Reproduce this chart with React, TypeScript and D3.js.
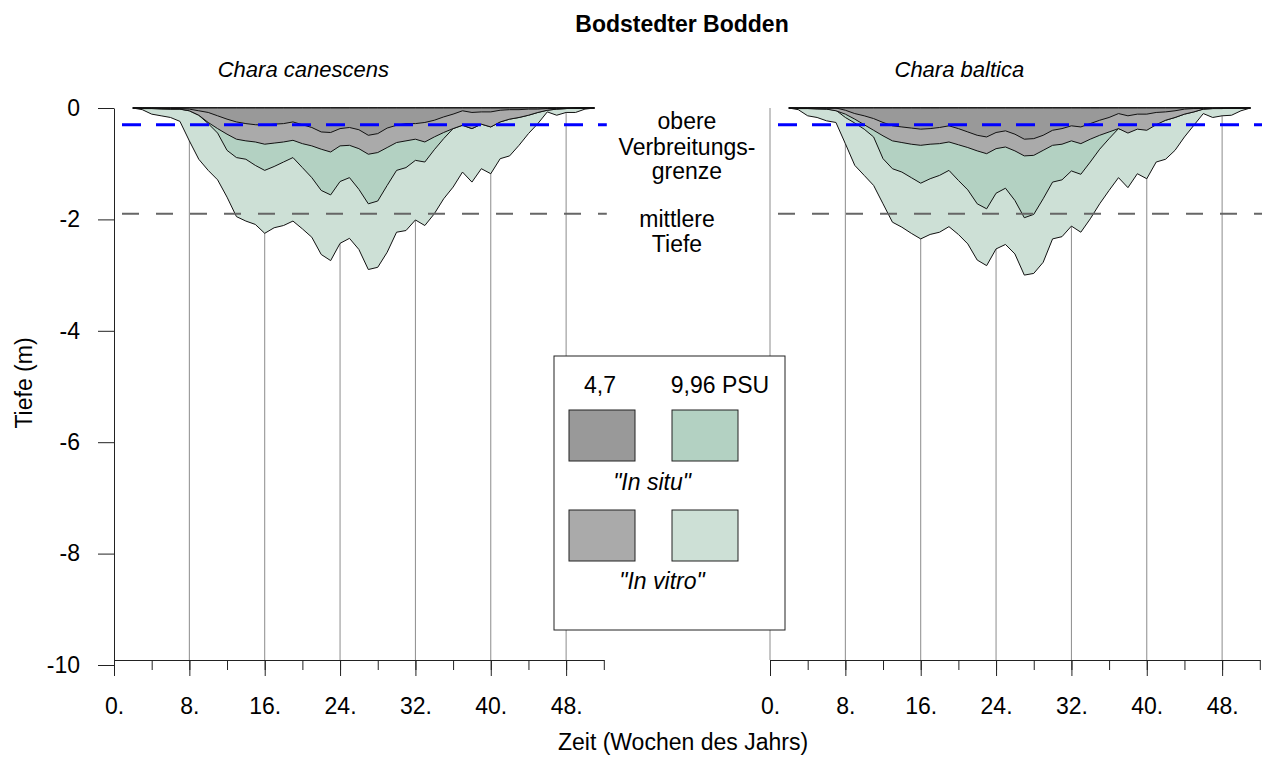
import * as d3 from "d3";
import { useEffect, useRef } from "react";

// Wochen mit Messwerten (x-Kategorien)
const weeks = [
  2, 3, 4, 5, 6, 7, 8, 9, 10, 11, 12, 13, 14, 15, 16, 17, 18, 19, 20, 21, 22, 23, 24, 25, 26,
  27, 28, 29, 30, 31, 32, 33, 34, 35, 36, 37, 38, 39, 40, 41, 42, 43, 44, 45, 46, 47, 48, 49, 50, 51,
];

// Chara canescens: untere Verbreitungsgrenze (m Tiefe)
const canescensSitu47 = [
  0, 0, 0, 0.01, 0.01, 0.01, 0.02, 0.05, 0.08, 0.14, 0.2, 0.25, 0.28, 0.3, 0.31, 0.29, 0.28, 0.25, 0.3, 0.35, 0.43, 0.44, 0.37, 0.35, 0.39,
  0.49, 0.46, 0.36, 0.31, 0.28, 0.28, 0.26, 0.22, 0.16, 0.11, 0.05, 0.08, 0.07, 0.07, 0.04, 0.03, 0.03, 0.02, 0.02, 0.01, 0.01, 0.01, 0, 0, 0,
];
const canescensVitro47 = [
  0, 0.01, 0.01, 0.02, 0.02, 0.02, 0.05, 0.13, 0.26, 0.37, 0.47, 0.56, 0.59, 0.61, 0.65, 0.63, 0.61, 0.58, 0.64, 0.68, 0.74, 0.79, 0.68, 0.67, 0.73,
  0.83, 0.8, 0.71, 0.62, 0.59, 0.56, 0.61, 0.52, 0.44, 0.37, 0.31, 0.37, 0.29, 0.34, 0.25, 0.2, 0.17, 0.13, 0.08, 0.04, 0.02, 0.01, 0, 0, 0,
];
const canescensSitu996 = [
  0, 0.01, 0.01, 0.01, 0.02, 0.02, 0.05, 0.13, 0.28, 0.45, 0.76, 0.89, 0.92, 1.03, 1.12, 1.05, 0.97, 0.89, 1.07, 1.25, 1.48, 1.56, 1.32, 1.25, 1.46,
  1.72, 1.67, 1.39, 1.12, 1.07, 0.94, 0.97, 0.75, 0.55, 0.37, 0.31, 0.37, 0.29, 0.34, 0.25, 0.2, 0.17, 0.13, 0.08, 0.04, 0.02, 0.01, 0, 0, 0,
];
const canescensVitro996 = [
  0, 0.03, 0.11, 0.14, 0.17, 0.24, 0.59, 0.92, 1.12, 1.29, 1.6, 1.95, 2.03, 2.09, 2.25, 2.15, 2.11, 2.03, 2.17, 2.32, 2.63, 2.74, 2.43, 2.34, 2.54,
  2.9, 2.86, 2.59, 2.23, 2.2, 2.01, 2.11, 1.9, 1.63, 1.42, 1.15, 1.33, 1.09, 1.18, 0.91, 0.86, 0.67, 0.46, 0.28, 0.07, 0.13, 0.08, 0.08, 0.02, 0,
];

// Chara baltica
const balticaSitu47 = [
  0, 0, 0, 0, 0, 0, 0.04, 0.1, 0.14, 0.19, 0.26, 0.32, 0.34, 0.36, 0.38, 0.37, 0.35, 0.32, 0.37, 0.43, 0.49, 0.52, 0.44, 0.41, 0.47,
  0.56, 0.55, 0.49, 0.4, 0.37, 0.32, 0.34, 0.28, 0.22, 0.17, 0.1, 0.14, 0.11, 0.11, 0.08, 0.07, 0.05, 0.02, 0.01, 0.01, 0.01, 0, 0, 0, 0,
];
const balticaVitro47 = [
  0, 0.01, 0.01, 0.02, 0.02, 0.05, 0.11, 0.2, 0.3, 0.4, 0.5, 0.59, 0.62, 0.65, 0.67, 0.65, 0.64, 0.61, 0.66, 0.71, 0.77, 0.82, 0.73, 0.7, 0.77,
  0.86, 0.85, 0.76, 0.67, 0.65, 0.59, 0.64, 0.56, 0.49, 0.43, 0.37, 0.45, 0.38, 0.4, 0.3, 0.22, 0.17, 0.11, 0.07, 0.02, 0.01, 0.01, 0, 0, 0,
];
const balticaSitu996 = [
  0, 0.01, 0.01, 0.01, 0.02, 0.04, 0.17, 0.27, 0.38, 0.52, 0.91, 1.09, 1.15, 1.25, 1.35, 1.27, 1.21, 1.12, 1.3, 1.47, 1.72, 1.81, 1.53, 1.44, 1.66,
  1.97, 1.91, 1.63, 1.33, 1.29, 1.13, 1.19, 0.97, 0.74, 0.55, 0.37, 0.42, 0.36, 0.38, 0.28, 0.22, 0.17, 0.11, 0.07, 0.02, 0.01, 0.01, 0, 0, 0,
];
const balticaVitro996 = [
  0, 0.03, 0.14, 0.17, 0.23, 0.26, 0.64, 1.03, 1.21, 1.39, 1.72, 2.05, 2.14, 2.25, 2.35, 2.27, 2.23, 2.13, 2.27, 2.44, 2.73, 2.83, 2.53, 2.45, 2.62,
  3.0, 2.97, 2.77, 2.35, 2.31, 2.12, 2.23, 1.99, 1.72, 1.48, 1.25, 1.43, 1.18, 1.27, 0.97, 0.92, 0.76, 0.52, 0.31, 0.1, 0.17, 0.14, 0.13, 0.05, 0,
];

const xTicksMajor = [0, 8, 16, 24, 32, 40, 48];
const xTicksMinor = [0, 4, 8, 12, 16, 20, 24, 28, 32, 36, 40, 44, 48, 52];
const gridWeeks = [8, 16, 24, 32, 40, 48];
const yTicks = [0, -2, -4, -6, -8, -10];
const upperLimit = -0.3; // obere Verbreitungsgrenze
const meanDepth = -1.9; // mittlere Tiefe

const FONT = "'Liberation Sans', Arial, sans-serif";
const COL = {
  situ47: "#999999",
  vitro47: "#aaaaaa",
  situ996: "#b3d1c2",
  vitro996: "#cde0d6",
};
const TOP = 108;
const BOTTOM = 665;
const AXIS_Y = 660;
const PANEL_W = 489.8;

const y = d3.scaleLinear().domain([0, -10]).range([TOP, BOTTOM]);

type PanelProps = {
  x0: number;
  title: string;
  situ47: number[];
  vitro47: number[];
  situ996: number[];
  vitro996: number[];
  leftAxis: boolean;
};

const Panel = ({ x0, title, situ47, vitro47, situ996, vitro996, leftAxis }: PanelProps) => {
  const x = d3.scaleLinear().domain([0, 52]).range([x0, x0 + PANEL_W]);
  const axisRef = useRef<SVGGElement>(null);

  useEffect(() => {
    const g = d3.select(axisRef.current);
    g.selectAll("*").remove();

    const minor = g
      .append("g")
      .attr("transform", `translate(0,${AXIS_Y})`)
      .call(d3.axisBottom(x).tickValues(xTicksMinor).tickSize(10).tickSizeOuter(0).tickFormat(() => ""));
    minor.select(".domain").attr("stroke", "#222");
    minor.selectAll(".tick line").attr("stroke", "#222");

    const major = g
      .append("g")
      .attr("transform", `translate(0,${AXIS_Y})`)
      .call(
        d3
          .axisBottom(x)
          .tickValues(xTicksMajor)
          .tickSize(16)
          .tickPadding(22)
          .tickSizeOuter(0)
          .tickFormat((d) => `${d}.`)
      );
    major.select(".domain").remove();
    major.selectAll(".tick line").attr("stroke", "#222");
    major.attr("font-size", 23).attr("font-family", FONT);

    if (leftAxis) {
      const ya = g
        .append("g")
        .attr("transform", `translate(${x0},0)`)
        .call(
          d3
            .axisLeft(y)
            .tickValues(yTicks)
            .tickSize(16)
            .tickPadding(18)
            .tickSizeOuter(0)
            .tickFormat((d) => String(d))
        );
      ya.select(".domain").attr("stroke", "#222");
      ya.selectAll(".tick line").attr("stroke", "#222");
      ya.attr("font-size", 23).attr("font-family", FONT);
    }
  }, [x0, leftAxis]);

  const area = (vals: number[]) =>
    d3
      .area<number>()
      .x((_, i) => x(weeks[i]))
      .y0(y(0))
      .y1((d) => y(-d))(vals) || "";

  const layers = [
    { vals: vitro996, fill: COL.vitro996 },
    { vals: situ996, fill: COL.situ996 },
    { vals: vitro47, fill: COL.vitro47 },
    { vals: situ47, fill: COL.situ47 },
  ];

  return (
    <g>
      <text x={x(20.1)} y={77} textAnchor="middle" fontStyle="italic" fontSize={22} fontFamily={FONT}>
        {title}
      </text>
      {!leftAxis && <line x1={x0} x2={x0} y1={TOP} y2={AXIS_Y} stroke="#8c8c8c" />}
      {gridWeeks.map((w) => (
        <line key={w} x1={x(w)} x2={x(w)} y1={TOP} y2={AXIS_Y} stroke="#8c8c8c" />
      ))}
      {layers.map((l, i) => (
        <path key={i} d={area(l.vals)} fill={l.fill} stroke="#111" strokeWidth={1} strokeLinejoin="round" />
      ))}
      <line
        x1={x(0) + 8}
        x2={x(52) + 3}
        y1={y(meanDepth)}
        y2={y(meanDepth)}
        stroke="#666"
        strokeWidth={2}
        strokeDasharray="17 17"
      />
      <line
        x1={x(0) + 8}
        x2={x(52) + 3}
        y1={y(upperLimit)}
        y2={y(upperLimit)}
        stroke="#0000ff"
        strokeWidth={3}
        strokeDasharray="19 15"
      />
      <g ref={axisRef} />
    </g>
  );
};

export default function App() {
  return (
    <svg width={1262} height={758} style={{ position: "absolute", left: 0, top: 0, background: "#fff" }}>
      <text x={682} y={32} textAnchor="middle" fontWeight="bold" fontSize={23} fontFamily={FONT}>
        Bodstedter Bodden
      </text>
      <Panel
        x0={114}
        title="Chara canescens"
        situ47={canescensSitu47}
        vitro47={canescensVitro47}
        situ996={canescensSitu996}
        vitro996={canescensVitro996}
        leftAxis
      />
      <Panel
        x0={770}
        title="Chara baltica"
        situ47={balticaSitu47}
        vitro47={balticaVitro47}
        situ996={balticaSitu996}
        vitro996={balticaVitro996}
        leftAxis={false}
      />
      <g fontFamily={FONT} fontSize={23} textAnchor="middle">
        <text x={687} y={129}>obere</text>
        <text x={687} y={155}>Verbreitungs-</text>
        <text x={687} y={179}>grenze</text>
        <text x={677} y={227}>mittlere</text>
        <text x={677} y={252}>Tiefe</text>
        <text transform="translate(32,383) rotate(-90)">Tiefe (m)</text>
        <text x={683} y={750}>Zeit (Wochen des Jahrs)</text>
      </g>
      <g fontFamily={FONT} fontSize={23} textAnchor="middle">
        <rect x={554} y={356} width={231} height={274} fill="#fff" stroke="#222" />
        <text x={600} y={393}>4,7</text>
        <text x={720} y={393}>9,96 PSU</text>
        <rect x={569} y={410} width={66} height={51} fill={COL.situ47} stroke="#222" />
        <rect x={672} y={410} width={66} height={51} fill={COL.situ996} stroke="#222" />
        <text x={652} y={490} fontStyle="italic">"In situ"</text>
        <rect x={569} y={510} width={66} height={51} fill={COL.vitro47} stroke="#222" />
        <rect x={672} y={510} width={66} height={51} fill={COL.vitro996} stroke="#222" />
        <text x={662} y={589} fontStyle="italic">"In vitro"</text>
      </g>
    </svg>
  );
}
